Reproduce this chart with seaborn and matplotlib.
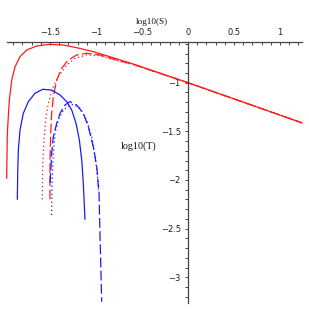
import matplotlib
matplotlib.use("Agg")
import matplotlib.pyplot as plt
import seaborn as sns
import numpy as np

# ---- data (log10(S), log10(T)) ----
red_solid_x = [-1.971, -1.964, -1.942, -1.916, -1.880, -1.826, -1.753, -1.645, -1.500,
               -1.355, -1.210, -1.029, -0.848, -0.595, 0.0, 1.24]
red_solid_y = [-1.983, -1.520, -1.178, -0.972, -0.836, -0.733, -0.664, -0.623, -0.605,
               -0.613, -0.640, -0.681, -0.733, -0.808, -1.0, -1.413]

red_dash_x = [-1.500, -1.500, -1.492, -1.482, -1.464, -1.427, -1.373, -1.301, -1.210,
              -1.101, -0.957, -0.775, -0.595, 0.0, 1.24]
red_dash_y = [-2.199, -1.795, -1.520, -1.315, -1.144, -0.972, -0.852, -0.767, -0.715,
              -0.698, -0.715, -0.767, -0.812, -1.0, -1.413]

red_dot_x = [-1.584, -1.580, -1.565, -1.547, -1.518, -1.471, -1.410, -1.318, -1.228,
             -1.101, -0.957, -0.775, -0.595, 0.0, 1.24]
red_dot_y = [-2.199, -1.863, -1.589, -1.383, -1.212, -1.058, -0.938, -0.818, -0.749,
             -0.715, -0.722, -0.774, -0.814, -1.0, -1.413]

blue_solid_x = [-1.855, -1.851, -1.844, -1.826, -1.790, -1.736, -1.663, -1.579, -1.482,
                -1.391, -1.318, -1.264, -1.217, -1.181, -1.155, -1.138, -1.120]
blue_solid_y = [-2.199, -1.931, -1.692, -1.486, -1.315, -1.195, -1.109, -1.068, -1.075,
                -1.126, -1.195, -1.281, -1.417, -1.589, -1.795, -2.034, -2.404]

blue_dash_x = [-1.500, -1.490, -1.482, -1.464, -1.427, -1.391, -1.337, -1.283, -1.210,
               -1.138, -1.084, -1.029, -0.992, -0.967, -0.957, -0.938]
blue_dash_y = [-2.030, -1.880, -1.726, -1.555, -1.417, -1.315, -1.229, -1.195, -1.229,
               -1.315, -1.452, -1.658, -1.863, -2.137, -2.548, -3.251]

blue_dot_x = [-1.484, -1.482, -1.475, -1.464, -1.446, -1.410, -1.355, -1.283, -1.247,
              -1.174, -1.101, -1.047, -1.011, -0.986, -0.975]
blue_dot_y = [-2.360, -2.308, -1.966, -1.726, -1.520, -1.383, -1.281, -1.229, -1.225,
              -1.263, -1.383, -1.555, -1.761, -1.931, -2.100]

x_major = [-1.5, -1.0, -0.5, 0.0, 0.5, 1.0]
x_major_labels = ["\u22121.5", "\u22121", "\u22120.5", "0", "0.5", "1"]
y_major = [-1.0, -1.5, -2.0, -2.5, -3.0]
y_major_labels = ["\u22121", "\u22121.5", "\u22122", "\u22122.5", "\u22123"]
x_label = "log10(S)"
y_label = "log10(T)"

# ---- figure ----
sns.set_style("white")
plt.rcParams["font.family"] = ["DejaVu Sans"]
plt.rcParams["lines.scale_dashes"] = False

W = H = 309
fig = plt.figure(figsize=(W / 100, H / 100), dpi=100)
ax = fig.add_axes([0, 0, 1, 1])
ax.set_facecolor("white")

px_x0, px_per_x = 188.0, 92.0
px_y0, px_per_y = -14.6, 97.3
ax.set_xlim(-px_x0 / px_per_x, (W - px_x0) / px_per_x)
ax.set_ylim(-(H - px_y0) / px_per_y, -(0 - px_y0) / px_per_y)

lw = 0.9
RED = "#ff1a1a"
BLUE = "#1a1aff"
dash = (0, (7.0, 2.5))
dot = (0, (0.9, 2.0))

curves = [
    (red_solid_x, red_solid_y, RED, "-"),
    (red_dash_x, red_dash_y, RED, dash),
    (red_dot_x, red_dot_y, RED, dot),
    (blue_solid_x, blue_solid_y, BLUE, "-"),
    (blue_dash_x, blue_dash_y, BLUE, dash),
    (blue_dot_x, blue_dot_y, BLUE, dot),
]
for xs, ys, c, ls in curves:
    sns.lineplot(x=xs, y=ys, sort=False, estimator=None, color=c,
                 linestyle=ls, linewidth=lw, ax=ax)

# axes in Maple style
x_axis_y = -(42.3 - px_y0) / px_per_y
y_axis_bottom = -(302.7 - px_y0) / px_per_y
for s in ["right", "bottom"]:
    ax.spines[s].set_visible(False)
ax.spines["top"].set_position(("data", x_axis_y))
ax.spines["top"].set_bounds(-1.97, 1.24)
ax.spines["left"].set_position(("data", 0.0))
ax.spines["left"].set_bounds(y_axis_bottom, x_axis_y)
for s in ["top", "left"]:
    ax.spines[s].set_color("#444444")
    ax.spines[s].set_linewidth(0.9)

ax.xaxis.tick_top()
ax.set_xticks(x_major)
ax.set_xticklabels(x_major_labels)
ax.set_xticks([v / 10 for v in range(-19, 13)], minor=True)
ax.tick_params(axis="x", which="both", direction="in", length=2.2, width=0.7,
               color="#444444", labelsize=6.0, pad=4, labelcolor="#222222")

ax.yaxis.tick_left()
ax.set_yticks(y_major)
ax.set_yticklabels(y_major_labels)
ax.set_yticks([-v / 10 for v in range(6, 33)], minor=True)
ax.tick_params(axis="y", which="both", direction="out", length=2.2, width=0.7,
               color="#444444", labelsize=6.0, pad=3.0, labelcolor="#222222")
ax.set_xlabel("")
ax.set_ylabel("")

fig.text(152 / W, 1 - 21.7 / H, x_label, ha="center", va="center",
         family=["Liberation Serif"], fontsize=6.6, color="#111111")
fig.text(138.7 / W, 1 - 145.7 / H, y_label, ha="center", va="center",
         family=["Liberation Serif"], fontsize=7.2, color="#111111")

fig.savefig("out.png", dpi=100, facecolor="white")
